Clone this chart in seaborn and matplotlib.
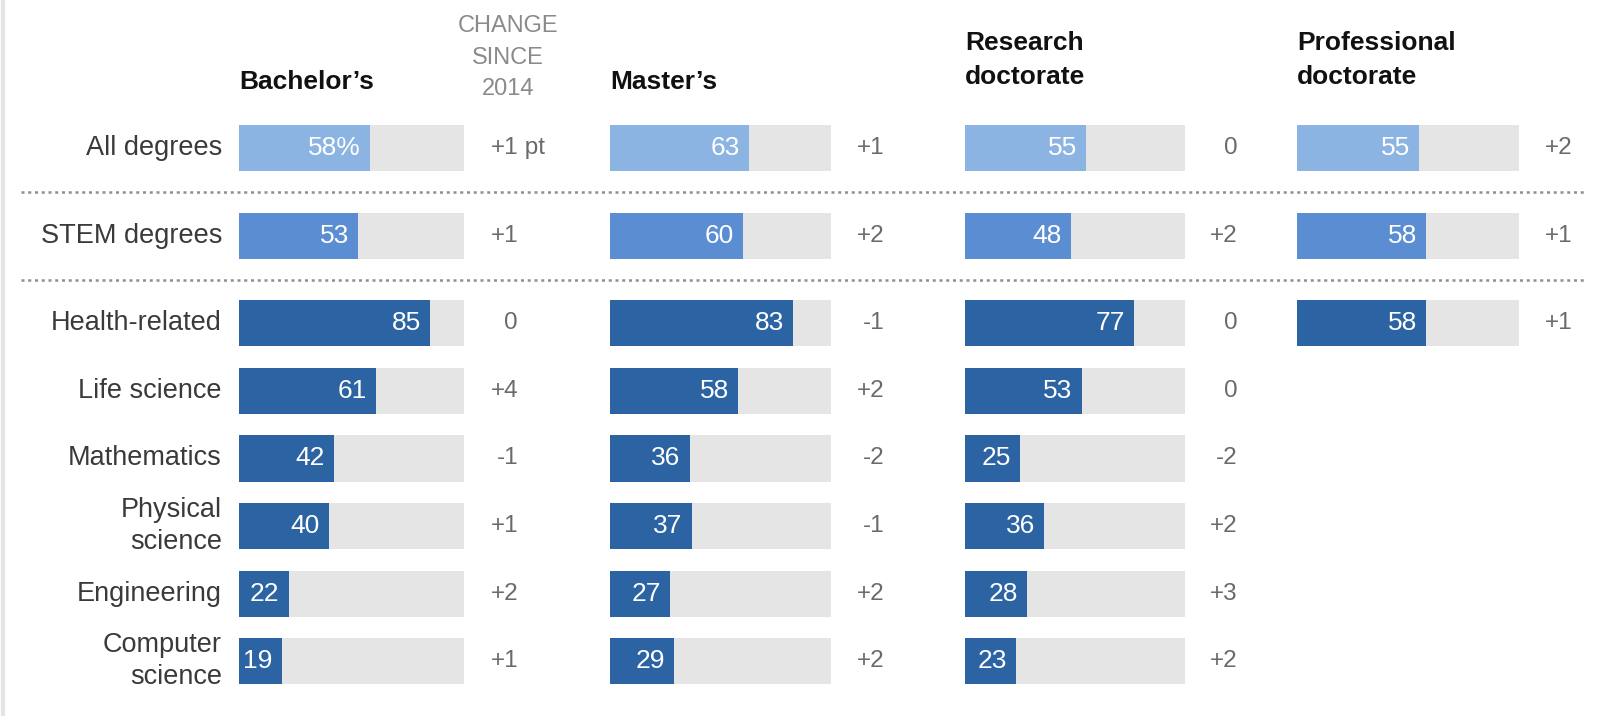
import numpy as np
import pandas as pd
import matplotlib
matplotlib.use("Agg")
import matplotlib.pyplot as plt
import matplotlib.transforms as mtransforms
import seaborn as sns

# ---------------- data ----------------
rows = ["All degrees", "STEM degrees", "Health-related", "Life science",
        "Mathematics", "Physical\nscience", "Engineering", "Computer\nscience"]
row_groups = ["All", "STEM", "Field", "Field", "Field", "Field", "Field", "Field"]
degrees = ["Bachelor\u2019s", "Master\u2019s", "Research\ndoctorate", "Professional\ndoctorate"]

bachelors = [58, 53, 85, 61, 42, 40, 22, 19]
masters = [63, 60, 83, 58, 36, 37, 27, 29]
research = [55, 48, 77, 53, 25, 36, 28, 23]
professional = [55, 58, 58]

bachelors_change = ["+1", "+1", "0", "+4", "-1", "+1", "+2", "+1"]
masters_change = ["+1", "+2", "-1", "+2", "-2", "-1", "+2", "+2"]
research_change = ["0", "+2", "0", "0", "-2", "+2", "+3", "+2"]
professional_change = ["+2", "+1", "+1"]

change_header = "CHANGE\nSINCE\n2014"

# ---------------- style / layout ----------------
sns.set_theme(style="white")
plt.rcParams["font.family"] = ["Liberation Sans", "DejaVu Sans"]

FIG_W, FIG_H, DPI = 1616, 716, 100
ROW0 = 148.3          # pixel centre of first row
STEP = 67.6           # pixel step between field rows
GAP_RATIO = 87.5 / 67.6
BAR_H_PX = 46
track_px = [(239, 464), (610, 831), (965, 1185), (1297, 1519)]
CHANGE_X = 124        # in % units of each panel
HEADER_BOTTOM = 94

pal = {"All": "#8cb4e2", "STEM": "#5b8dd3", "Field": "#2c63a2"}
TRACK = "#e5e5e5"
LABEL_C = "#3a3a3a"
CHANGE_C = "#6a6a6a"

values = [bachelors, masters, research, professional]
changes = [bachelors_change, masters_change, research_change, professional_change]

fig = plt.figure(figsize=(FIG_W / DPI, FIG_H / DPI), dpi=DPI)
fig.patch.set_facecolor("white")
ax_bg = fig.add_axes([0, 0, 1, 1])
ax_bg.set_xlim(0, FIG_W)
ax_bg.set_ylim(FIG_H, 0)
ax_bg.axis("off")
ax_bg.axvline(3, color="#e4e4e4", lw=3)

ylim = ((FIG_H - ROW0) / STEP, -ROW0 / STEP)
positions = [i * GAP_RATIO if i < 2 else 2 * GAP_RATIO + (i - 2) for i in range(len(rows))]
bar_h = BAR_H_PX / STEP

axes = []
for k, (deg, vals, chg, (x0, x1)) in enumerate(zip(degrees, values, changes, track_px)):
    ax = fig.add_axes([x0 / FIG_W, 0, (x1 - x0) / FIG_W, 1])
    ax.patch.set_alpha(0)
    n = len(vals)
    df = pd.DataFrame({"pos": positions[:n], "value": vals,
                       "group": row_groups[:n], "track": np.full(n, 100.0)})
    native_w = np.min(np.diff(np.sort(df["pos"].values)))
    w = bar_h / native_w
    sns.barplot(data=df, x="track", y="pos", orient="y", native_scale=True,
                color=TRACK, saturation=1, width=w, errorbar=None,
                linewidth=0, ax=ax)
    sns.barplot(data=df, x="value", y="pos", hue="group", palette=pal,
                orient="y", native_scale=True, dodge=False, saturation=1,
                width=w, errorbar=None, linewidth=0, legend=False, ax=ax)
    ax.set_xlim(0, 100)
    ax.set_ylim(*ylim)
    ax.axis("off")

    for i, (v, p, c) in enumerate(zip(vals, df["pos"], chg)):
        lab = f"{v}%" if (k == 0 and i == 0) else f"{v}"
        ax.annotate(lab, xy=(v, p), xytext=(-9, 0), textcoords="offset pixels",
                    ha="right", va="center", color="white", fontsize=19)
        ax.text(CHANGE_X, p, c, ha="right", va="center", color=CHANGE_C,
                fontsize=17.5, clip_on=False)
        if k == 0 and i == 0:
            ax.text(CHANGE_X, p, " pt", ha="left", va="center",
                    color=CHANGE_C, fontsize=17.5, clip_on=False)

    htrans = mtransforms.blended_transform_factory(ax.transData, ax_bg.transData)
    hb = HEADER_BOTTOM - 5 if "\n" in deg else HEADER_BOTTOM
    ax.text(0, hb, deg, transform=htrans, ha="left", va="bottom",
            fontsize=19, fontweight="bold", color="#111111", linespacing=1.5)
    axes.append(ax)

ax0 = axes[0]
# row labels
for lab, p in zip(rows, positions):
    ax0.annotate(lab, xy=(0, p), xytext=(-17, 0), textcoords="offset pixels",
                 ha="right", va="center", color=LABEL_C, fontsize=19.5,
                 linespacing=1.3, annotation_clip=False)

# change header
ax_bg.text(508, 100, change_header, ha="center", va="bottom", color="#8a8a8a",
           fontsize=17, linespacing=1.55)

# dotted separators
sep_trans = mtransforms.blended_transform_factory(ax_bg.transData, ax0.transData)
for a, b in [(0, 1), (1, 2)]:
    ymid = (positions[a] + positions[b]) / 2
    ax_bg.plot([21, 1587], [ymid, ymid], transform=sep_trans, color="#8f8f8f",
               lw=1.8, linestyle=(0, (1.2, 1.5)))

fig.savefig("out.png", dpi=DPI, facecolor="white")
